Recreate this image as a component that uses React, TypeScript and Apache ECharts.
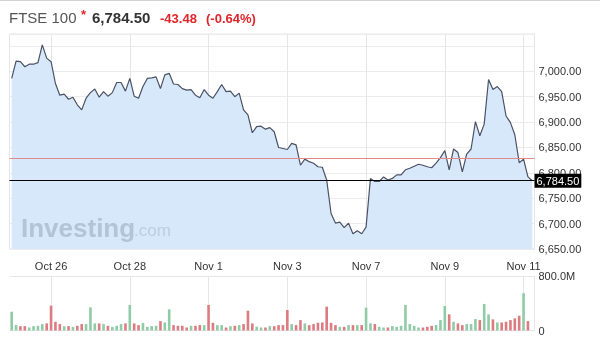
import React, { useEffect, useRef } from "react";
import * as echarts from "echarts";

// ---- data ----
const days = [
  "Oct 25", "Oct 26", "Oct 27", "Oct 28", "Oct 31", "Nov 1", "Nov 2",
  "Nov 3", "Nov 4", "Nov 7", "Nov 8", "Nov 9", "Nov 10", "Nov 11",
];
const hours = ["08:00", "09:00", "10:00", "11:00", "12:00", "13:00", "14:00", "15:00", "16:00"];
const lastDayBars = 3;
const tickLabels = ["Oct 26", "Oct 28", "Nov 1", "Nov 3", "Nov 7", "Nov 9", "Nov 11"];

const prices = [
  6986, 7020, 7019, 7009, 7014, 7014, 7017, 7052, 7026,
  7019, 6976, 6953, 6955, 6945, 6949, 6934, 6924, 6947,
  6958, 6965, 6949, 6960, 6951, 6958, 6978, 6978, 6961,
  6986, 6951, 6947, 6970, 6986, 6987, 6989, 6966, 6993,
  6996, 6975, 6974, 6966, 6963, 6964, 6953, 6948, 6964,
  6953, 6947, 6960, 6974, 6960, 6961, 6950, 6957, 6924,
  6914, 6879, 6891, 6892, 6886, 6889, 6881, 6850, 6848,
  6846, 6858, 6855, 6815, 6827, 6822, 6819, 6812, 6811,
  6786, 6720, 6701, 6703, 6692, 6701, 6680, 6686, 6680,
  6693, 6789, 6783, 6783, 6792, 6786, 6789, 6796, 6796,
  6806, 6809, 6813, 6817, 6815, 6812, 6810, 6819, 6830,
  6844, 6806, 6847, 6840, 6802, 6837, 6847, 6901, 6873,
  6896, 6984, 6964, 6970, 6960, 6912, 6899, 6875, 6820,
  6827, 6792, 6784.5,
];

// volumes in millions
const volumes = [
  276, 79, 64, 64, 44, 64, 69, 94, 104,
  365, 128, 94, 64, 64, 54, 69, 94, 94,
  340, 104, 104, 94, 69, 54, 69, 94, 104,
  375, 104, 79, 113, 54, 64, 69, 138, 118,
  311, 79, 69, 69, 44, 69, 69, 79, 79,
  375, 113, 79, 79, 44, 64, 69, 79, 94,
  291, 104, 54, 44, 44, 64, 64, 79, 79,
  301, 94, 79, 153, 104, 79, 94, 113, 118,
  350, 113, 79, 54, 54, 79, 79, 79, 79,
  335, 104, 94, 54, 44, 44, 64, 54, 69,
  375, 94, 69, 44, 44, 54, 69, 79, 153,
  360, 237, 128, 104, 79, 94, 94, 168, 153,
  390, 237, 163, 118, 118, 128, 153, 178, 217,
  548, 138, 0,
];

const prevClose = 6827.98;
const lastPrice = 6784.5;

const categories: string[] = [];
days.forEach((d, di) => {
  const n = di === days.length - 1 ? lastDayBars : hours.length;
  for (let h = 0; h < n; h++) categories.push(d + " " + hours[h]);
});
const labelIndex = new Map<number, string>();
tickLabels.forEach((t) => {
  const i = categories.indexOf(t + " " + hours[0]);
  if (i >= 0) labelIndex.set(i, t);
});

const GREEN = "#8ecba6";
const RED = "#dc7b80";

function fmt(v: number) {
  return v.toLocaleString("en-US", { minimumFractionDigits: 2, maximumFractionDigits: 2 });
}

export default function App() {
  const ref = useRef<HTMLDivElement>(null);
  useEffect(() => {
    document.body.style.margin = "0";
    const chart = echarts.init(ref.current!, null, { renderer: "svg" });
    const font = "'Liberation Sans', Arial, sans-serif";
    const volData = volumes.map((v, i) => ({
      value: v * 1e6,
      itemStyle: { color: i === 0 || prices[i] >= prices[i - 1] ? GREEN : RED },
    }));
    const showIdx = (i: number) => labelIndex.has(i);
    chart.setOption({
      animation: false,
      textStyle: { fontFamily: font },
      grid: [
        { left: 9.5, right: 65.5, top: 34, height: 215, show: true, borderColor: "#e6e6e6", borderWidth: 1 },
        { left: 9.5, right: 65.5, top: 276, height: 54.5, show: false },
      ],
      graphic: [
        { type: "line", shape: { x1: 0, y1: 0.5, x2: 600, y2: 0.5 }, style: { stroke: "#d0d0d0", lineWidth: 1 } },
        { type: "text", left: 9, top: 10, style: { text: "FTSE 100", fill: "#555", font: "15px " + font } },
        { type: "text", left: 81, top: 8, style: { text: "*", fill: "#e0262b", font: "bold 13px " + font } },
        { type: "text", left: 92, top: 10, style: { text: "6,784.50", fill: "#333", font: "bold 15px " + font } },
        { type: "text", left: 160, top: 12, style: { text: "-43.48", fill: "#e0262b", font: "bold 13px " + font } },
        { type: "text", left: 206, top: 12, style: { text: "(-0.64%)", fill: "#e0262b", font: "bold 13px " + font } },
        { type: "text", left: 21, top: 215, z: 100, style: { text: "Investing", fill: "rgba(150,165,185,0.55)", font: "bold 26px " + font } },
        { type: "text", left: 134, top: 222, z: 100, style: { text: ".com", fill: "rgba(165,180,198,0.5)", font: "17px " + font } },
      ],
      xAxis: [
        {
          type: "category", gridIndex: 0, data: categories, boundaryGap: true,
          axisLine: { show: false }, axisTick: { show: false },
          axisLabel: { interval: (i: number) => showIdx(i), formatter: (_v: string, i: number) => labelIndex.get(i) || "", color: "#333", fontSize: 11, margin: 11 },
          splitLine: { show: true, interval: (i: number) => showIdx(i), alignWithLabel: true, lineStyle: { color: "#e6e6e6" } },
        },
        {
          type: "category", gridIndex: 1, data: categories, boundaryGap: true,
          axisLine: { show: false }, axisTick: { show: false }, axisLabel: { show: false },
          splitLine: { show: true, interval: (i: number) => showIdx(i), alignWithLabel: true, lineStyle: { color: "#e6e6e6" } },
        },
      ],
      yAxis: [
        {
          type: "value", gridIndex: 0, position: "right", min: 6650, max: 7073.5, interval: 50,
          axisLine: { show: true, lineStyle: { color: "#e6e6e6" } }, axisTick: { show: false },
          axisLabel: { formatter: (v: number) => (v <= 7000 && v % 50 === 0 ? fmt(v) : ""), color: "#333", fontSize: 11, margin: 4 },
          splitLine: { lineStyle: { color: "#ececec" } },
        },
        {
          type: "value", gridIndex: 1, position: "right", min: 0, max: 800e6, interval: 800e6,
          axisLine: { show: true, lineStyle: { color: "#e6e6e6" } }, axisTick: { show: false },
          axisLabel: { formatter: (v: number) => (v === 0 ? "0" : (v / 1e6).toFixed(1) + "M"), color: "#333", fontSize: 11, margin: 4 },
          splitLine: { show: true, lineStyle: { color: "#e6e6e6" } },
        },
      ],
      series: [
        {
          type: "line", xAxisIndex: 0, yAxisIndex: 0, data: prices, showSymbol: false,
          lineStyle: { color: "#4a5264", width: 1.2 },
          areaStyle: { color: "#d7e8fb", opacity: 1 },
          markLine: {
            silent: true, symbol: "none",
            data: [
              { yAxis: prevClose, lineStyle: { color: "#e08a8a", width: 1, type: "solid" }, label: { show: false } },
              {
                yAxis: lastPrice, lineStyle: { color: "#000", width: 1, type: "solid" },
                label: { show: true, position: "end", distance: 0, formatter: "6,784.50", color: "#fff", backgroundColor: "#000", fontSize: 11, padding: [2, 2, 1, 2], fontFamily: font },
              },
            ],
          },
        },
        {
          type: "bar", xAxisIndex: 1, yAxisIndex: 1, data: volData, barWidth: 2.6,
        },
      ],
    });
    return () => chart.dispose();
  }, []);
  return <div ref={ref} style={{ position: "fixed", left: 0, top: 0, width: 600, height: 351 }} />;
}
